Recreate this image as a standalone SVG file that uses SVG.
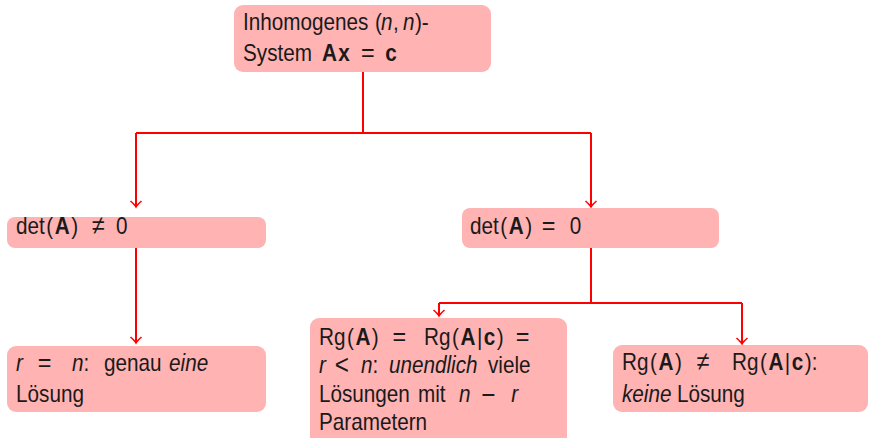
<svg xmlns="http://www.w3.org/2000/svg" width="869" height="438" viewBox="0 0 869 438">
<style>
.box{fill:#ffb3b3;stroke:none}
.t{font-family:"Liberation Sans",Arial,sans-serif;font-size:23px;fill:#1a1a1a}
.i{font-style:italic}
.b{font-weight:bold}
.o{font-size:26px}
.m{font-size:27px}
.c{fill:none;stroke:#ff0000;stroke-width:2}
</style>
<defs>
<marker id="ah" markerUnits="userSpaceOnUse" markerWidth="12" markerHeight="12" refX="0" refY="0" orient="auto" overflow="visible">
<path d="M-6,-5.5 Q-2,-1 0,0 Q-2,1 -6,5.5" fill="none" stroke="#ff0000" stroke-width="1.6"/>
</marker>
</defs>
<rect width="869" height="438" fill="#ffffff"/>
<g id="connectors">
<path class="c" d="M363,72 V133"/>
<path class="c" d="M136,133 H591"/>
<path class="c" d="M136,133 V207" marker-end="url(#ah)"/>
<path class="c" d="M591,133 V207" marker-end="url(#ah)"/>
<path class="c" d="M136,248 V343" marker-end="url(#ah)"/>
<path class="c" d="M591,248 V303"/>
<path class="c" d="M439,303 H742"/>
<path class="c" d="M439,303 V316" marker-end="url(#ah)"/>
<path class="c" d="M742,303 V344" marker-end="url(#ah)"/>
</g>
<g id="top">
<rect class="box" x="234" y="5" width="257" height="67" rx="9"/>
<g transform="scale(0.9,1)">
<text class="t" y="30"><tspan x="270">Inhomogenes</tspan><tspan x="416.7">(</tspan><tspan x="423.3" class="i">n</tspan><tspan x="436.7">,</tspan><tspan x="447.8" class="i">n</tspan><tspan x="461.1">)-</tspan></text>
<text class="t" y="61"><tspan x="270">System</tspan><tspan x="357.8" class="b">A</tspan><tspan dx="1.5" class="b">x</tspan><tspan x="401" class="o">=</tspan><tspan x="428" class="b">c</tspan></text>
</g>
</g>
<g id="detne">
<rect class="box" x="7" y="217" width="259" height="31" rx="8"/>
<g transform="scale(0.9,1)">
<text class="t" y="234"><tspan x="17.8">det</tspan><tspan dx="1.7">(</tspan><tspan dx="1.7" class="b">A</tspan><tspan dx="1.7">)</tspan><tspan x="102" class="o">≠</tspan><tspan x="129">0</tspan></text>
</g>
</g>
<g id="deteq">
<rect class="box" x="462" y="208" width="257" height="40" rx="8"/>
<g transform="scale(0.9,1)">
<text class="t" y="234"><tspan x="522.2">det</tspan><tspan dx="1.7">(</tspan><tspan dx="1.7" class="b">A</tspan><tspan dx="1.7">)</tspan><tspan x="602" class="o">=</tspan><tspan x="633">0</tspan></text>
</g>
</g>
<g id="unique">
<rect class="box" x="7" y="346" width="259" height="66" rx="9"/>
<g transform="scale(0.9,1)">
<text class="t" y="371"><tspan x="17.8" class="i">r</tspan><tspan x="42" class="o">=</tspan><tspan x="80" class="i">n</tspan><tspan>:</tspan><tspan x="115.6">genau</tspan><tspan x="187.8" class="i">eine</tspan></text>
<text class="t" x="17.8" y="402">Lösung</text>
</g>
</g>
<g id="infinite">
<rect class="box" x="310" y="318" width="257" height="130" rx="9"/>
<g transform="scale(0.9,1)">
<text class="t" y="345"><tspan x="354.4">Rg</tspan><tspan dx="1.7">(</tspan><tspan dx="1.7" class="b">A</tspan><tspan dx="1.7">)</tspan><tspan x="436" class="o">=</tspan><tspan x="471.1">Rg</tspan><tspan dx="1.7">(</tspan><tspan dx="1.7" class="b">A</tspan><tspan dx="1.7">|</tspan><tspan dx="1.7" class="b">c</tspan><tspan dx="1.7">)</tspan><tspan x="573" class="o">=</tspan></text>
<text class="t" y="373"><tspan x="354.4" class="i">r</tspan><tspan x="372" dy="1.5" class="m">&lt;</tspan><tspan x="401.1" dy="-1.5" class="i">n</tspan><tspan>:</tspan><tspan x="432.2" class="i">unendlich</tspan><tspan x="542.2">viele</tspan></text>
<text class="t" y="402"><tspan x="354.4">Lösungen</tspan><tspan x="464.4">mit</tspan><tspan x="510" class="i">n</tspan><tspan x="535" dy="2" class="m">−</tspan><tspan x="568" dy="-2" class="i">r</tspan></text>
<text class="t" x="354.4" y="430">Parametern</text>
</g>
</g>
<g id="none">
<rect class="box" x="613" y="345" width="255" height="67" rx="9"/>
<g transform="scale(0.9,1)">
<text class="t" y="370"><tspan x="691.1">Rg</tspan><tspan dx="1.7">(</tspan><tspan dx="1.7" class="b">A</tspan><tspan dx="1.7">)</tspan><tspan x="774" class="o">≠</tspan><tspan x="813.3">Rg</tspan><tspan dx="1.7">(</tspan><tspan dx="1.7" class="b">A</tspan><tspan dx="1.7">|</tspan><tspan dx="1.7" class="b">c</tspan><tspan dx="1.7">):</tspan></text>
<text class="t" y="402"><tspan x="691.1" class="i">keine</tspan><tspan x="752.2">Lösung</tspan></text>
</g>
</g>
</svg>
